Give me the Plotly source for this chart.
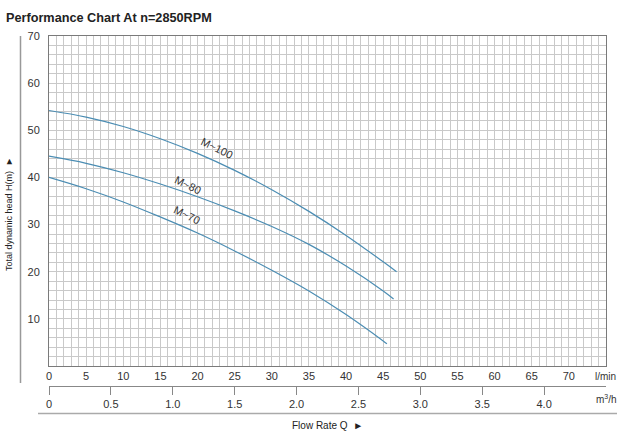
import plotly.graph_objects as go

# Data (flow in l/min, head in m)
flow_m100 = [0, 5, 10, 15, 20, 25, 30, 35, 40, 45, 46.8]
head_m100 = [54.2, 52.8, 50.8, 48.2, 45.1, 41.5, 37.4, 32.8, 27.7, 22.1, 20.0]
flow_m80 = [0, 5, 10, 15, 20, 25, 30, 35, 40, 45, 46.4]
head_m80 = [44.5, 43.0, 41.0, 38.6, 35.9, 32.9, 29.6, 25.8, 21.2, 15.9, 14.2]
flow_m70 = [0, 5, 10, 15, 20, 25, 30, 35, 40, 45, 45.5]
head_m70 = [40.0, 37.6, 34.8, 31.6, 28.2, 24.4, 20.3, 15.9, 10.9, 5.3, 4.7]
series_names = ["M~100", "M~80", "M~70"]
label_pos = [(22.6, 46.2), (18.7, 38.4), (18.6, 32.0)]

lmin_ticks = list(range(0, 71, 5))
m3h_ticks = [0, 0.5, 1.0, 1.5, 2.0, 2.5, 3.0, 3.5, 4.0]
m3h_text = ["0", "0.5", "1.0", "1.5", "2.0", "2.5", "3.0", "3.5", "4.0"]
head_ticks = list(range(10, 71, 10))

W, H = 620, 436
ML, MR, MT, MB = 49, 14, 36, 50
PW, PH = W - ML - MR, H - MT - MB
plot_bottom_px = 366

def px(x):
    return (x - ML) / PW

def py(y):
    return (H - MB - y) / PH

FONT = "Arial, Liberation Sans, sans-serif"
LINE_COLOR = "#4b8db3"
GRID = "#c9c9c9"
FRAME = "#7a7a7a"
TXT = "#333333"

fig = go.Figure()
for fx, hy in [(flow_m100, head_m100), (flow_m80, head_m80), (flow_m70, head_m70)]:
    fig.add_trace(go.Scatter(x=fx, y=hy, mode="lines",
                             line=dict(color=LINE_COLOR, width=1.2, shape="spline", smoothing=1.0),
                             showlegend=False, hoverinfo="skip"))

# dummy trace for second axis
fig.add_trace(go.Scatter(x=[0, 4.5], y=[0, 0], xaxis="x2", yaxis="y",
                         mode="lines", line=dict(width=0), showlegend=False, hoverinfo="skip"))

for name, (lx, ly) in zip(series_names, label_pos):
    fig.add_annotation(x=lx, y=ly, xref="x", yref="y", text=name, showarrow=False,
                       textangle=26, font=dict(family=FONT, size=11, color=TXT))

ydom0 = py(plot_bottom_px)
fig.update_layout(
    width=W, height=H, margin=dict(l=ML, r=MR, t=MT, b=MB),
    paper_bgcolor="white", plot_bgcolor="white",
    font=dict(family=FONT, size=11, color=TXT),
    xaxis=dict(range=[0, 75], tickvals=lmin_ticks, ticks="", showgrid=True, gridcolor=GRID,
               gridwidth=1, minor=dict(dtick=1, showgrid=True, gridcolor=GRID, gridwidth=1),
               showline=True, linecolor=FRAME, linewidth=1, mirror=True, zeroline=False,
               anchor="y", tickfont=dict(size=11, color=TXT)),
    yaxis=dict(range=[0, 70], tickvals=head_ticks, ticks="", showgrid=True, gridcolor=GRID,
               minor=dict(dtick=2, showgrid=True, gridcolor=GRID),
               showline=True, linecolor=FRAME, linewidth=1, mirror=True, zeroline=False,
               domain=[ydom0, 1], tickfont=dict(size=11, color=TXT), ticklabelstandoff=6),
    xaxis2=dict(range=[0, 4.5], overlaying="x", anchor="free", position=0, side="bottom",
                tickvals=m3h_ticks, ticktext=m3h_text, ticks="outside", ticklen=8,
                tickcolor="#888888", showgrid=False, showline=True, linecolor="#888888",
                zeroline=False, tickfont=dict(size=11, color=TXT)),
)

# Title
fig.add_annotation(x=px(4), y=py(18), xref="paper", yref="paper", xanchor="left",
                   yanchor="middle", text="<b>Performance Chart At n=2850RPM</b>",
                   showarrow=False, font=dict(family=FONT, size=12.7, color="#222222"))
# Y title
fig.add_annotation(x=px(9), y=py(214), xref="paper", yref="paper", xanchor="center",
                   yanchor="middle", text="Total dynamic head H(m)  \u25BA", textangle=-90,
                   showarrow=False, font=dict(family=FONT, size=9, color="#222222"))
# X title
fig.add_annotation(x=px(327), y=py(425), xref="paper", yref="paper", xanchor="center",
                   yanchor="middle", text="Flow Rate Q  \u25BA", showarrow=False,
                   font=dict(family=FONT, size=10, color="#222222"))
# unit labels
fig.add_annotation(x=px(605), y=py(376), xref="paper", yref="paper", xanchor="center",
                   yanchor="middle", text="l/min", showarrow=False,
                   font=dict(family=FONT, size=10, color=TXT))
fig.add_annotation(x=px(606), y=py(399), xref="paper", yref="paper", xanchor="center",
                   yanchor="middle", text="m<sup>3</sup>/h", showarrow=False,
                   font=dict(family=FONT, size=10, color=TXT))

# decorative lines
fig.add_shape(type="line", xref="paper", yref="paper", x0=px(20.5), x1=px(20.5),
              y0=py(36), y1=py(383), line=dict(color="#999999", width=1.5))
fig.add_shape(type="line", xref="paper", yref="paper", x0=px(38), x1=px(617),
              y0=py(413.5), y1=py(413.5), line=dict(color="#aaaaaa", width=1.5))

fig.write_html("out.html")
